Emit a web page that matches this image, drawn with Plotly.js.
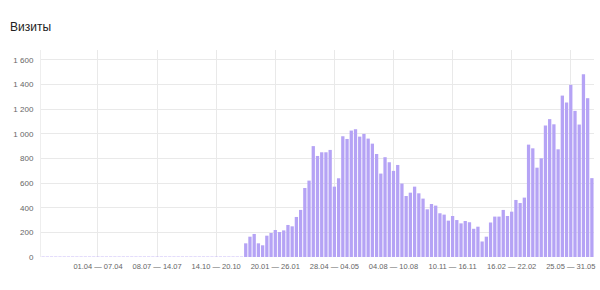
<!DOCTYPE html>
<html>
<head>
<meta charset="utf-8">
<script src="https://cdn.plot.ly/plotly-3.0.1.min.js"></script>
<style>
html,body{margin:0;padding:0;background:#fff;}
#chart{width:600px;height:290px;}
</style>
</head>
<body>
<div id="chart"></div>
<script>
// Weekly visits, week starting Monday 01.01.2024 (131 weeks)
const firstWeekStart = "2024-01-01";
const visits = [
  3,3,3,3,3,3,3,3,3,3,3,3,3,3,3,3,
  3,3,3,3,3,3,3,3,3,3,3,3,3,3,3,3,
  3,3,3,3,3,3,3,3,3,3,3,3,3,3,3,3,
  111,165,187,111,95,173,195,219,203,216,260,249,325,382,560,620,
  900,820,850,850,869,571,639,980,958,1026,1037,977,999,961,920,836,
  677,810,769,699,747,596,495,522,571,517,474,387,430,417,355,344,
  295,333,300,273,292,282,229,246,126,165,280,328,328,382,333,368,
  463,438,482,912,882,725,801,1067,1119,1077,874,1310,1253,1397,1186,1075,
  1483,1289,640
];
const xTickLabels = ["01.04 — 07.04","08.07 — 14.07","14.10 — 20.10","20.01 — 26.01","28.04 — 04.05","04.08 — 10.08","10.11 — 16.11","16.02 — 22.02","25.05 — 31.05"];
const yTickVals = [0,200,400,600,800,1000,1200,1400,1600];
const yTickText = ["0","200","400","600","800","1 000","1 200","1 400","1 600"];

function pad(n){return (n<10?"0":"")+n;}
function fmt(d){return pad(d.getUTCDate())+"."+pad(d.getUTCMonth()+1);}
const start = new Date(firstWeekStart+"T00:00:00Z");
const weeks = visits.map((_,i)=>{
  const a = new Date(start.getTime()+i*7*86400000);
  const b = new Date(a.getTime()+6*86400000);
  return fmt(a)+" — "+fmt(b);
});

const trace = {
  type:"bar",
  x: weeks,
  y: visits,
  marker:{color:"#b5a3f5", line:{width:0}},
  hoverinfo:"x+y"
};

const layout = {
  width:600, height:290,
  margin:{l:41, r:6, t:50, b:33},
  paper_bgcolor:"#fff", plot_bgcolor:"#fff",
  bargap:0.22,
  showlegend:false,
  font:{family:"Arial, Liberation Sans, sans-serif", color:"#666", size:9},
  title:{text:"Визиты", x:10/600, xref:"container", xanchor:"left", y:1-27/290, yref:"container", yanchor:"middle",
         font:{family:"Arial, Liberation Sans, sans-serif", size:12, color:"#222"}},
  xaxis:{
    type:"category",
    tickmode:"array", tickvals:xTickLabels, ticktext:xTickLabels,
    tickangle:0,
    showgrid:true, gridcolor:"#e9e9e9", gridwidth:1,
    zeroline:false, showline:false, ticks:"", ticklabelstandoff:3,
    tickfont:{size:7.5, color:"#666"},
    fixedrange:true
  },
  yaxis:{
    range:[0,1680],
    tickmode:"array", tickvals:yTickVals, ticktext:yTickText,
    showgrid:true, gridcolor:"#e9e9e9", gridwidth:1,
    zeroline:false, showline:true, linecolor:"#eeeeee", linewidth:1,
    ticks:"", ticklabelstandoff:5,
    tickfont:{size:8, color:"#666"},
    fixedrange:true
  }
};

Plotly.newPlot("chart",[trace],layout,{displayModeBar:false, staticPlot:true});
</script>
</body>
</html>
